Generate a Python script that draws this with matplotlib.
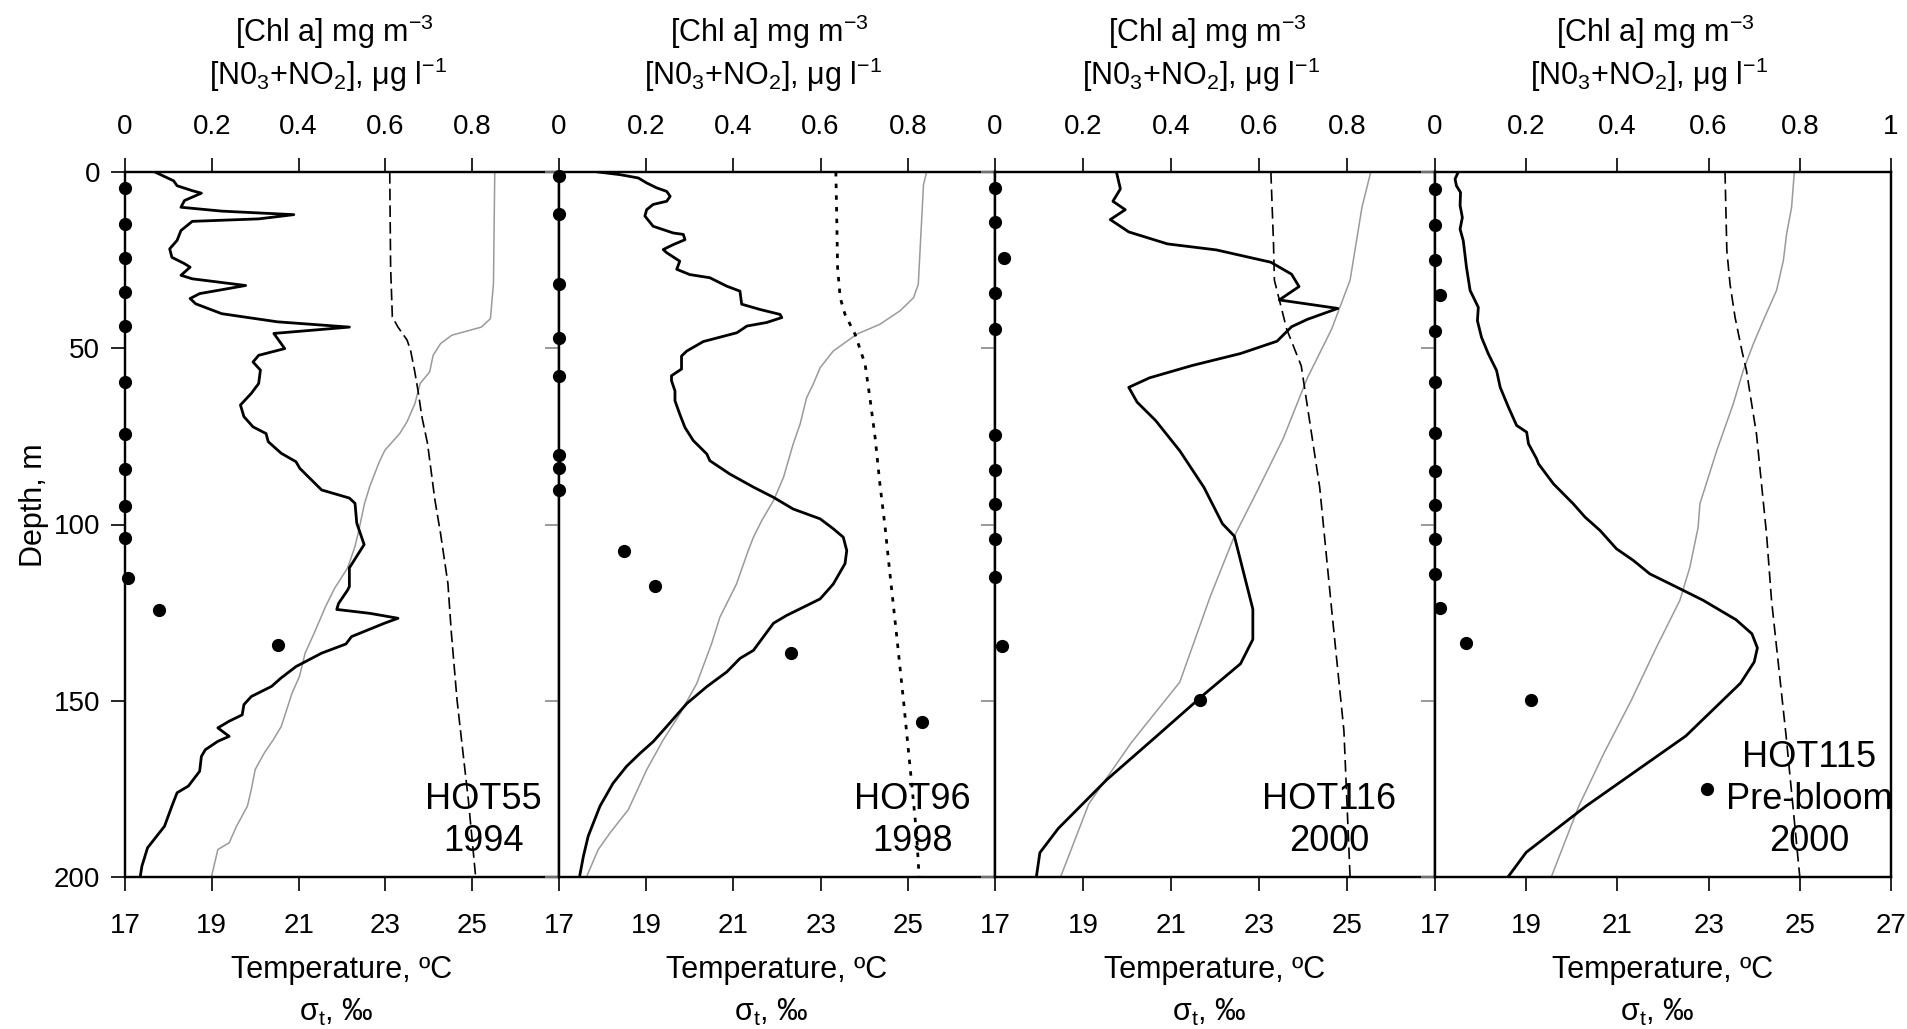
import numpy as np
import matplotlib.pyplot as plt

plt.rcParams['font.family'] = ['Liberation Sans', 'DejaVu Sans']
plt.rcParams['mathtext.fontset'] = 'custom'
plt.rcParams['mathtext.rm'] = 'Liberation Sans'

# ---- data: (depth m, value) ----
# chl a and NO3+NO2 on top axis (0-1), temperature and sigma-t on bottom axis (17-27)
p1_chl = [(0, 0.069), (2.5, 0.112), (3.9, 0.12), (5.3, 0.155), (6, 0.176), (8.1, 0.137), (10, 0.129),
          (11.1, 0.223), (12.1, 0.389), (13.3, 0.308), (14, 0.155), (16.6, 0.129), (19.4, 0.12),
          (21.8, 0.103), (24.2, 0.108), (26, 0.137), (27, 0.15), (29.3, 0.129), (30.3, 0.155),
          (32.2, 0.278), (34.5, 0.172), (35.9, 0.15), (37.4, 0.163), (40.2, 0.223), (42.5, 0.351),
          (44, 0.517), (45.8, 0.343), (50.1, 0.368), (52, 0.308), (53.9, 0.295), (56.2, 0.312),
          (60, 0.308), (62.8, 0.291), (66.1, 0.266), (69.4, 0.274), (72.3, 0.295), (74.2, 0.325),
          (76.5, 0.33), (79.8, 0.36), (82.2, 0.394), (84.1, 0.403), (90.2, 0.453), (92.5, 0.517),
          (94, 0.53), (99.6, 0.534), (105.7, 0.551), (112.3, 0.517), (117.6, 0.517), (118.6, 0.513),
          (122.4, 0.492), (124.1, 0.488), (125.2, 0.564), (126.6, 0.629), (128, 0.598), (131.8, 0.522),
          (133.9, 0.509), (136.5, 0.453), (140.3, 0.394), (143.6, 0.359), (145.9, 0.338), (148.8, 0.291),
          (151.1, 0.274), (154, 0.27), (155.8, 0.24), (157.7, 0.214), (160.1, 0.24), (161.5, 0.214),
          (163.9, 0.185), (165.8, 0.176), (170, 0.172), (174.2, 0.146), (176.1, 0.12), (179.9, 0.108),
          (185.6, 0.091), (190.3, 0.061), (191.7, 0.052), (196.9, 0.039), (200, 0.035)]
p1_temp = [(0, 25.52), (31.7, 25.49), (41.6, 25.42), (44, 25.21), (46.3, 24.53), (48.7, 24.27), (52, 24.1),
           (56.7, 24.02), (60, 23.8), (65.7, 23.68), (70.8, 23.5), (74.2, 23.33), (78.9, 22.99),
           (82.2, 22.86), (89.2, 22.64), (94, 22.52), (101.5, 22.39), (106.2, 22.3), (112.3, 22.13),
           (118.1, 21.83), (123.3, 21.62), (130.8, 21.36), (136.5, 21.15), (143.1, 21.02), (147.8, 20.85),
           (157.3, 20.6), (161, 20.42), (164.8, 20.21), (169.5, 20.0), (175.2, 19.91), (179.9, 19.82),
           (185.6, 19.57), (190.3, 19.4), (192.2, 19.14), (200, 18.99)]
p1_sigma = [(0, 23.1), (27, 23.12), (41.1, 23.16), (44, 23.29), (47.7, 23.5), (50.6, 23.58), (56.2, 23.67),
            (61.9, 23.75), (69.4, 23.84), (77, 23.97), (84.5, 24.05), (93, 24.14), (102.5, 24.27),
            (116.7, 24.44), (130.8, 24.52), (149.7, 24.65), (163.9, 24.78), (178, 24.91), (200, 25.08)]
p1_no3 = [(4.6, 0), (14.7, 0), (24.4, 0), (34, 0), (43.7, 0), (59.7, 0), (74.3, 0), (84.2, 0), (94.7, 0),
          (103.9, 0), (115.2, 0.008), (124.2, 0.079), (134.3, 0.352)]

p2_chl = [(0, 0.09), (0.75, 0.14), (1.7, 0.182), (3.1, 0.201), (4.5, 0.224), (5.5, 0.247), (6.9, 0.255),
          (8.3, 0.247), (9.2, 0.216), (10.7, 0.201), (12.5, 0.197), (15.4, 0.216), (17.3, 0.262),
          (17.7, 0.285), (19.2, 0.289), (20.6, 0.262), (22, 0.239), (22.9, 0.247), (25.3, 0.277),
          (27.6, 0.27), (29.1, 0.3), (30, 0.346), (32.4, 0.385), (33.8, 0.415), (37.5, 0.419), (39, 0.461),
          (40.4, 0.507), (41.3, 0.511), (42.7, 0.476), (43.7, 0.431), (45.6, 0.408), (48.1, 0.331),
          (50.8, 0.293), (52.2, 0.281), (55.9, 0.281), (57.8, 0.258), (59.2, 0.258), (62.1, 0.266),
          (64.9, 0.266), (68.7, 0.277), (72.5, 0.289), (76.2, 0.308), (80, 0.339), (81.9, 0.346),
          (85.7, 0.392), (89.4, 0.446), (92.3, 0.492), (95.6, 0.537), (98.4, 0.599), (101.2, 0.629),
          (103.6, 0.652), (107.4, 0.66), (111.1, 0.656), (116.9, 0.629), (121.1, 0.599), (123, 0.568),
          (125.8, 0.522), (128, 0.492), (130, 0.48), (135.7, 0.446), (138, 0.415), (141.8, 0.385),
          (146, 0.339), (150.8, 0.293), (157.3, 0.247), (161.6, 0.216), (164.9, 0.186), (168.6, 0.155),
          (173.4, 0.124), (179.9, 0.094), (188.4, 0.067), (194.1, 0.056), (200, 0.047)]
p2_temp = [(0, 25.43), (3.6, 25.36), (13, 25.32), (22.5, 25.28), (31.9, 25.24), (35.7, 25.13), (39.4, 24.82),
           (43.2, 24.36), (46, 23.83), (50.8, 23.29), (55.5, 22.99), (60.2, 22.83), (64, 22.68),
           (71.5, 22.53), (77.2, 22.37), (86.6, 22.15), (93.2, 21.92), (98.9, 21.65), (103.6, 21.46),
           (107.4, 21.34), (116.9, 21.07), (126.3, 20.69), (133.8, 20.5), (145.1, 20.16), (153.6, 19.78),
           (161.1, 19.39), (169.6, 19.01), (180.9, 18.59), (187.5, 18.17), (192.2, 17.9), (200, 17.63)]
p2_sigma = [(0, 23.35), (13, 23.37), (27.2, 23.39), (35.7, 23.45), (40.4, 23.56), (46, 23.79), (54.5, 24.02),
            (64, 24.13), (75.3, 24.25), (88.5, 24.36), (100.8, 24.48), (109.3, 24.55), (131, 24.74),
            (149.8, 24.9), (168.6, 25.05), (187.5, 25.2), (200, 25.26)]
p2_no3 = [(1.2, 0), (11.8, 0), (31.9, 0), (47, 0), (58, 0), (80.3, 0), (84, 0), (90.1, 0), (107.5, 0.148),
          (117.5, 0.22), (136.4, 0.532), (156, 0.832)]

p3_chl = [(0, 0.276), (4.8, 0.285), (8.3, 0.268), (10.7, 0.296), (13.5, 0.262), (17, 0.304), (20.4, 0.392),
          (22.1, 0.503), (25.6, 0.627), (29, 0.674), (32.5, 0.691), (36.3, 0.646), (37.7, 0.724),
          (38.7, 0.779), (41.8, 0.71), (43.9, 0.674), (48, 0.641), (51.5, 0.558), (54.9, 0.448),
          (58.4, 0.351), (61.1, 0.304), (65.3, 0.323), (70.5, 0.365), (79.1, 0.42), (89.5, 0.475),
          (99.8, 0.517), (103.3, 0.544), (110.2, 0.558), (124, 0.586), (132.6, 0.586), (139.5, 0.558),
          (148.2, 0.475), (160.3, 0.365), (172.4, 0.254), (186.2, 0.144), (193.1, 0.102), (200, 0.094)]
p3_temp = [(0, 25.54), (10, 25.34), (30.7, 25.07), (44.6, 24.65), (58.4, 24.1), (75.6, 23.55), (89.5, 23.0),
           (103.3, 22.44), (120.5, 21.89), (144.7, 21.2), (162, 20.09), (179.3, 19.13), (200, 18.49)]
p3_sigma = [(0, 23.27), (20.4, 23.33), (30.7, 23.35), (44.6, 23.63), (55, 23.96), (89.5, 24.38),
            (124, 24.65), (158.5, 24.93), (200, 25.07)]
p3_no3 = [(4.5, 0), (14.2, 0), (24.5, 0.02), (34.2, 0), (44.6, 0), (74.6, 0), (84.6, 0), (94.3, 0),
          (104, 0), (115, 0), (134.4, 0.017), (149.9, 0.467)]

p4_chl = [(0, 0.051), (2, 0.044), (3.9, 0.047), (5.8, 0.056), (9.5, 0.055), (12.9, 0.06), (16.2, 0.055),
          (19.5, 0.062), (27, 0.069), (33.6, 0.077), (38.4, 0.095), (42.2, 0.093), (46.9, 0.102),
          (51.6, 0.117), (56.3, 0.135), (61.1, 0.143), (66.7, 0.161), (71.9, 0.179), (73.8, 0.201),
          (77.1, 0.205), (81.4, 0.223), (82.8, 0.227), (88.5, 0.26), (94.1, 0.303), (97.9, 0.329),
          (101.7, 0.362), (106.9, 0.398), (110.2, 0.435), (114, 0.471), (116.8, 0.515), (121.5, 0.588),
          (127, 0.66), (131, 0.695), (135, 0.707), (139, 0.7), (145, 0.67), (150, 0.63), (160, 0.55),
          (170, 0.44), (180, 0.33), (187, 0.26), (193, 0.2), (200, 0.16)]
p4_temp = [(0, 24.88), (10, 24.82), (17.6, 24.71), (25.1, 24.64), (33.6, 24.49), (41.2, 24.23), (48.8, 23.98),
           (56.3, 23.76), (65.8, 23.54), (79, 23.18), (94.1, 22.81), (100.8, 22.77), (112.1, 22.59),
           (121.5, 22.37), (135, 21.85), (150, 21.3), (165, 20.7), (180, 20.15), (190, 19.85), (200, 19.55)]
p4_sigma = [(0, 23.36), (22.3, 23.4), (31.8, 23.47), (41.2, 23.58), (50.7, 23.73), (56.3, 23.83), (63, 23.91),
            (74.3, 24.05), (88.5, 24.16), (102.6, 24.27), (121.5, 24.38), (160, 24.7), (200, 25.0)]
p4_no3 = [(4.8, 0), (14.9, 0), (24.9, 0), (34.9, 0.01), (45, 0), (59.6, 0), (74, 0), (84.7, 0), (94.4, 0),
          (104.1, 0), (114, 0), (123.7, 0.01), (133.7, 0.067), (149.9, 0.21), (175.1, 0.597)]

station_labels = ["HOT55\n1994", "HOT96\n1998", "HOT116\n2000", "HOT115\nPre-bloom\n2000"]
temp_ticks = [17, 19, 21, 23, 25]
conc_ticks = [0, 0.2, 0.4, 0.6, 0.8]
depth_ticks = [0, 50, 100, 150, 200]

panels = [(p1_chl, p1_temp, p1_sigma, p1_no3),
          (p2_chl, p2_temp, p2_sigma, p2_no3),
          (p3_chl, p3_temp, p3_sigma, p3_no3),
          (p4_chl, p4_temp, p4_sigma, p4_no3)]

# ---- layout (pixels) ----
W, H = 1908, 1029
edges = [125, 559, 995, 1435, 1891]
top_px, bot_px = 172, 877
sigma_dash = [(0, (7, 3)), (0, (1.6, 2.6)), (0, (7, 3.5)), (0, (7, 3.5))]
sigma_lw = [1.2, 2.0, 1.2, 1.2]
label_pos = [(25.25, 184), (25.1, 184), (24.6, 184), (25.2, 178)]

fig = plt.figure(figsize=(W / 100, H / 100), dpi=100)

for i, (chl, temp, sig, no3) in enumerate(panels):
    l, r = edges[i], edges[i + 1]
    ax = fig.add_axes([l / W, 1 - bot_px / H, (r - l) / W, (bot_px - top_px) / H])
    ax.set_xlim(17, 27)
    ax.set_ylim(200, 0)
    ax2 = ax.twiny()
    ax2.set_xlim(0, 1)

    d, v = np.array(temp).T
    ax.plot(v, d, color='#9a9a9a', lw=1.1)
    d, v = np.array(sig).T
    ax.plot(v, d, color='black', lw=sigma_lw[i], linestyle=sigma_dash[i])
    d, v = np.array(chl).T
    ax2.plot(v, d, color='black', lw=2.0)
    d, v = np.array(no3).T
    ax2.plot(v, d, 'o', color='black', ms=8.5, clip_on=False, zorder=5)

    last = i == len(panels) - 1
    ax.set_xticks(temp_ticks + ([27] if last else []))
    ax2.set_xticks(conc_ticks + ([1] if last else []))
    ax2.set_xticklabels([f"{t:g}" for t in conc_ticks] + (["1"] if last else []))
    ax.set_yticks(depth_ticks)
    for a in (ax, ax2):
        a.tick_params(direction='out', length=10, width=1.2, labelsize=20, pad=16)
        for s in a.spines.values():
            s.set_linewidth(1.6)
    ax2.tick_params(axis='x', pad=13)
    ax.tick_params(axis='y', pad=8)
    if i > 0:
        ax.tick_params(axis='y', labelleft=False, color='#888888')

    cx = (l + r) / 2
    fig.text((cx - 8) / W, 1 - 32 / H, "[Chl a] mg m$^\\mathregular{-3}$", ha='center', va='center', fontsize=22)
    fig.text((cx - 14) / W, 1 - 75 / H, "[N0$_\\mathregular{3}$+NO$_\\mathregular{2}$], \u03bcg l$^\\mathregular{-1}$",
             ha='center', va='center', fontsize=22)
    fig.text(cx / W, 1 - 970 / H, "Temperature, \u00baC", ha='center', va='center', fontsize=22)
    fig.text((cx - 6) / W, 1 - 1012 / H, "\u03c3$_\\mathregular{t}$, \u2030", ha='center', va='center', fontsize=22)

    lx, ly = label_pos[i]
    ax.text(lx, ly, station_labels[i], ha='center', va='center', fontsize=26, linespacing=1.25,
            multialignment='center')

fig.text(34 / W, 1 - 505 / H, "Depth, m", rotation=90, ha='center', va='center', fontsize=22)

fig.savefig("out.png", dpi=100)
